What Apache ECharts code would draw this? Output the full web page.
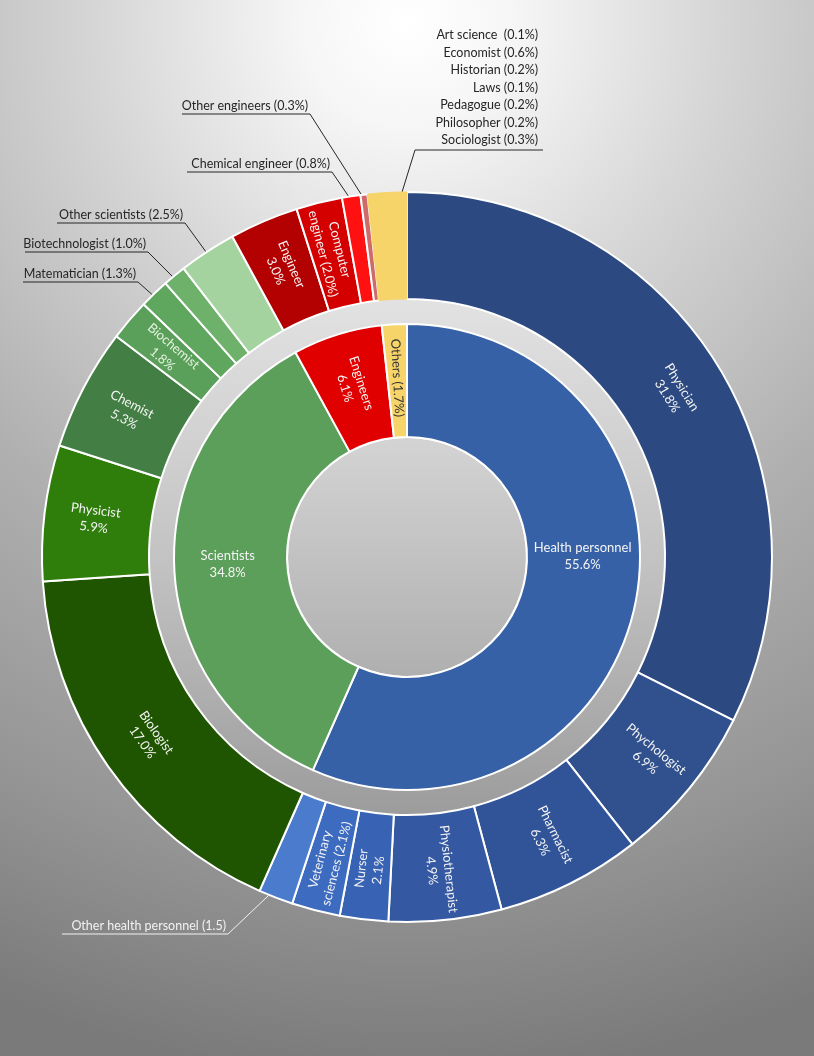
<!DOCTYPE html>
<html lang="en" style="height: 100%">
<head>
    <meta charset="utf-8">
</head>
<body style="height: 100%; margin: 0">
<div id="container" style="height: 100%"></div>

<script type="text/javascript" src="https://fastly.jsdelivr.net/npm/echarts@6/dist/echarts.min.js"></script>
<script type="text/javascript">
    var dom = document.getElementById('container');
    var myChart = echarts.init(dom, null, { renderer: 'canvas' });

    // inner ring: professional groups (% of all respondents)
    const groupNames = ['Health personnel', 'Scientists', 'Engineers', 'Others'];
    const groupValues = [55.6, 34.8, 6.1, 1.7];

    // outer ring: occupations inside each group
    const healthNames = ['Physician', 'Phychologist', 'Pharmacist', 'Physiotherapist', 'Nurser', 'Veterinary sciences', 'Other health personnel'];
    const healthValues = [31.8, 6.9, 6.3, 4.9, 2.1, 2.1, 1.5];
    const scientistNames = ['Biologist', 'Physicist', 'Chemist', 'Biochemist', 'Matematician', 'Biotechnologist', 'Other scientists'];
    const scientistValues = [17.0, 5.9, 5.3, 1.8, 1.3, 1.0, 2.5];
    const engineerNames = ['Engineer', 'Computer engineer', 'Chemical engineer', 'Other engineers'];
    const engineerValues = [3.0, 2.0, 0.8, 0.3];
    const otherNames = ['Art science ', 'Economist', 'Historian', 'Laws', 'Pedagogue', 'Philosopher', 'Sociologist'];
    const otherValues = [0.1, 0.6, 0.2, 0.1, 0.2, 0.2, 0.3];

    // colours
    const groupColors = ['#3661a6', '#5b9f5a', '#e00000', '#f7d46a'];
    const healthColors = ['#2c4a81', '#30518e', '#315499', '#3459a2', '#3863b4', '#3c6bc0', '#4a7bcd'];
    const scientistColors = ['#1f5500', '#2f7e0c', '#437f44', '#5a9f5a', '#5fa65f', '#6db16b', '#a5d3a0'];
    const engineerColors = ['#b30000', '#d40000', '#ff1111', '#cf6a6a'];
    const otherColors = ['#f7d46a', '#f7d46a', '#f7d46a', '#f7d46a', '#f7d46a', '#f7d46a', '#f7d46a'];

    const CX = 407, CY = 557;
    const R_HOLE = 120, R_IN = 233, R_GAP = 258, R_OUT = 365;
    const FONT = 'Lato, "Open Sans", sans-serif';
    const LIGHT = '#f4f4f4';
    const DARK = '#262626';

    const outerNames = [].concat(healthNames, scientistNames, engineerNames, otherNames);
    const outerValues = [].concat(healthValues, scientistValues, engineerValues, otherValues);
    const outerColors = [].concat(healthColors, scientistColors, engineerColors, otherColors);
    const outerTotal = outerValues.reduce(function (a, b) { return a + b; }, 0);

    function pct(v) {
        return v.toFixed(1) + '%';
    }

    // labels drawn inside the outer slices
    const insideLabels = {
        'Physician': { rotate: 'tangential' },
        'Phychologist': { rotate: 'radial' },
        'Pharmacist': { rotate: 'radial' },
        'Physiotherapist': { rotate: 'radial' },
        'Nurser': { rotate: 'radial' },
        'Veterinary sciences': { rotate: 'radial', split: true },
        'Biologist': { rotate: 'tangential' },
        'Physicist': { rotate: 'radial' },
        'Chemist': { rotate: 'radial' },
        'Biochemist': { rotate: 'radial', color: '#e4f2dc' },
        'Engineer': { rotate: 'radial' },
        'Computer engineer': { rotate: 'radial', split: true }
    };

    // call-out labels: where the underline sits and where the leader starts
    const callouts = {
        'Other health personnel': { r: 350, lineY: 934, bend: 228, far: 62, textX: 226, color: '#f2f2f2', noPct: true },
        'Matematician': { r: 337, lineY: 282, bend: 138, far: 23, textX: 136 },
        'Biotechnologist': { r: 345, lineY: 252, bend: 148, far: 25, textX: 146 },
        'Other scientists': { r: 340, lineY: 223, bend: 185, far: 57, textX: 183 },
        'Chemical engineer': { r: 360, lineY: 172, bend: 332, far: 187, textX: 330 },
        'Other engineers': { r: 360, lineY: 114, bend: 310, far: 182, textX: 308 },
        'Laws': { r: 330, lineY: 150, bend: 415, far: 543, textX: 538, block: true }
    };

    function calloutText(name, v, co) {
        if (co.block) {
            return otherNames.map(function (n, i) {
                return n + ' (' + pct(otherValues[i]) + ')';
            }).join('\n');
        }
        return name + ' (' + (co.noPct ? v.toFixed(1) : pct(v)) + ')';
    }

    const outerData = outerNames.map(function (name, i) {
        const v = outerValues[i];
        const item = { name: name, value: v, itemStyle: { color: outerColors[i] } };
        // the "Others" occupations read as one yellow block
        if (otherNames.indexOf(name) >= 0) {
            item.itemStyle.borderColor = outerColors[i];
            item.itemStyle.borderWidth = 1;
        }
        const inl = insideLabels[name];
        const co = callouts[name];
        if (inl) {
            item.label = {
                show: true,
                position: 'inside',
                rotate: inl.rotate,
                color: inl.color || LIGHT,
                formatter: inl.split
                    ? name.replace(' ', '\n') + ' (' + pct(v) + ')'
                    : name + '\n' + pct(v)
            };
            item.labelLine = { show: false };
        } else if (co) {
            item.label = {
                show: true,
                position: 'outside',
                overflow: 'none',
                color: co.color || DARK,
                fontSize: 12.5,
                lineHeight: co.block ? 17.5 : 14,
                formatter: calloutText(name, v, co)
            };
            item.labelLine = {
                show: true,
                length: 5,
                length2: 5,
                lineStyle: { color: co.color || DARK, width: 1 }
            };
        } else {
            item.label = { show: false };
            item.labelLine = { show: false };
        }
        return item;
    });

    const innerLabels = [
        { rotate: 0, text: groupNames[0] + '\n' + pct(groupValues[0]), color: LIGHT, offset: [0, -38] },
        { rotate: 0, text: groupNames[1] + '\n' + pct(groupValues[1]), color: LIGHT },
        { rotate: 'radial', text: groupNames[2] + '\n' + pct(groupValues[2]), color: LIGHT },
        { rotate: 'radial', text: groupNames[3] + ' (' + pct(groupValues[3]) + ')', color: '#333333' }
    ];

    const innerData = groupNames.map(function (name, i) {
        const l = innerLabels[i];
        const label = { show: true, position: 'inside', rotate: l.rotate, color: l.color, formatter: l.text };
        if (l.offset) label.offset = l.offset;
        return { name: name, value: groupValues[i], itemStyle: { color: groupColors[i] }, label: label };
    });

    var option = {
        animation: false,
        backgroundColor: new echarts.graphic.RadialGradient(0.5, 0.02, 1.3, [
            { offset: 0, color: '#ffffff' },
            { offset: 0.1, color: '#f6f6f6' },
            { offset: 0.3, color: '#d5d5d5' },
            { offset: 0.55, color: '#b0b0b0' },
            { offset: 0.8, color: '#959595' },
            { offset: 1, color: '#7a7a7a' }
        ]),
        textStyle: { fontFamily: FONT },
        series: [
            {
                // centre disc
                type: 'pie',
                silent: true,
                center: [CX, CY],
                radius: [0, R_HOLE],
                label: { show: false },
                labelLine: { show: false },
                itemStyle: {
                    borderColor: '#ffffff',
                    borderWidth: 2,
                    color: new echarts.graphic.LinearGradient(0, 0, 0, 1, [
                        { offset: 0, color: '#d4d4d4' },
                        { offset: 1, color: '#afafaf' }
                    ])
                },
                data: [{ value: 1 }]
            },
            {
                // grey band between the rings
                type: 'pie',
                silent: true,
                center: [CX, CY],
                radius: [R_IN, R_GAP],
                label: { show: false },
                labelLine: { show: false },
                itemStyle: {
                    color: new echarts.graphic.LinearGradient(0, 0, 0, 1, [
                        { offset: 0, color: '#e2e2e2' },
                        { offset: 0.5, color: '#c3c3c3' },
                        { offset: 1, color: '#9c9c9c' }
                    ])
                },
                data: [{ value: 1 }]
            },
            {
                type: 'pie',
                silent: true,
                center: [CX, CY],
                radius: [R_HOLE, R_IN],
                startAngle: 90,
                clockwise: true,
                avoidLabelOverlap: false,
                itemStyle: { borderColor: '#ffffff', borderWidth: 2 },
                label: { fontSize: 13, fontFamily: FONT, lineHeight: 17 },
                labelLine: { show: false },
                data: innerData
            },
            {
                type: 'pie',
                silent: true,
                center: [CX, CY],
                radius: [R_GAP, R_OUT],
                startAngle: 90,
                clockwise: true,
                avoidLabelOverlap: false,
                itemStyle: { borderColor: '#ffffff', borderWidth: 2 },
                label: { fontSize: 13, fontFamily: FONT, lineHeight: 17 },
                labelLayout: function (params) {
                    const i = params.dataIndex;
                    const co = callouts[outerNames[i]];
                    if (!co) return {};
                    let cum = 0;
                    for (let j = 0; j < i; j++) cum += outerValues[j];
                    const theta = (cum + outerValues[i] / 2) / outerTotal * Math.PI * 2;
                    const start = [CX + co.r * Math.sin(theta), CY - co.r * Math.cos(theta)];
                    return {
                        x: co.textX,
                        y: co.lineY - 1,
                        align: 'right',
                        verticalAlign: 'bottom',
                        labelLinePoints: [start, [co.bend, co.lineY], [co.far, co.lineY]]
                    };
                },
                data: outerData
            }
        ]
    };

    myChart.setOption(option);
    window.addEventListener('resize', myChart.resize);
</script>
</body>
</html>
